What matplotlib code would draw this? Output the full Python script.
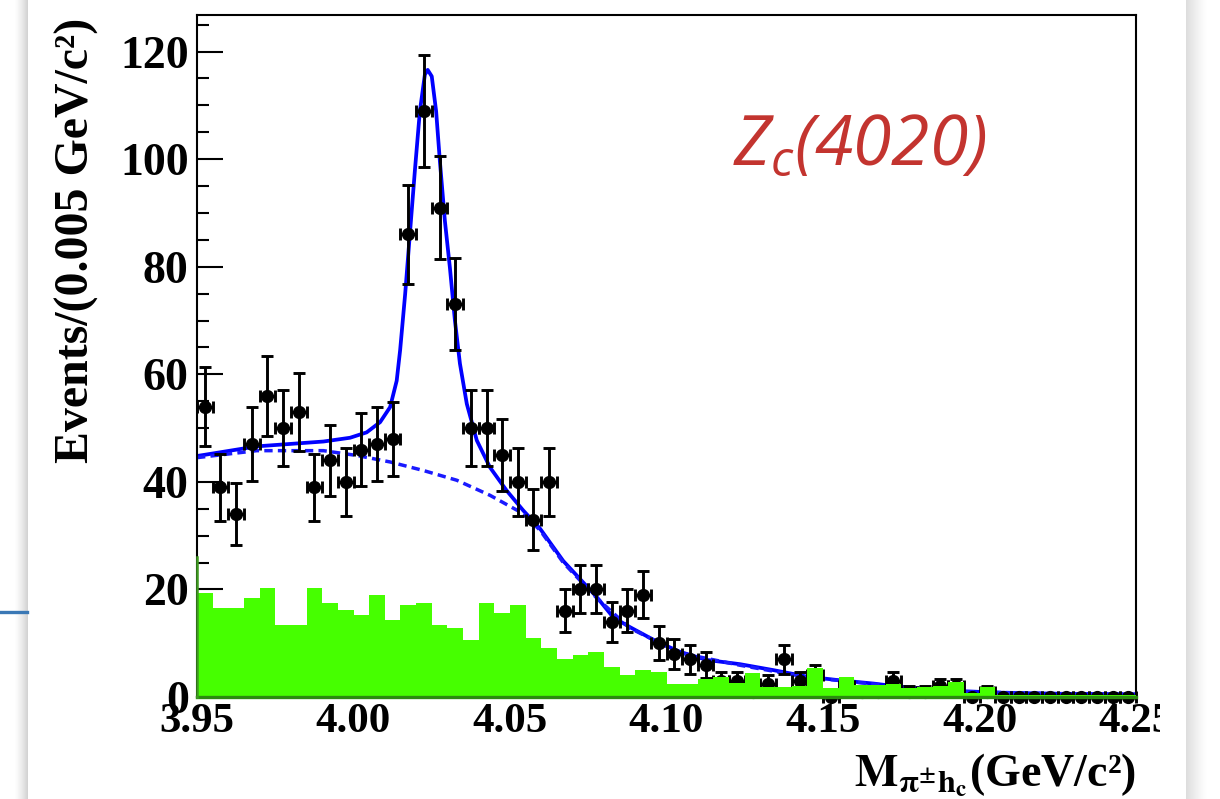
import numpy as np
import matplotlib
matplotlib.use("Agg")
import matplotlib.pyplot as plt
from matplotlib.ticker import MultipleLocator

# ---------------------------------------------------------------- data
bin_lo, bin_w, n_bins = 3.95, 0.005, 60

# observed events per 5 MeV bin
data_counts = [54, 39, 34, 47, 56, 50, 53, 39, 44, 40,
               46, 47, 48, 86, 109, 91, 73, 50, 50, 45,
               40, 33, 40, 16, 20, 20, 14, 16, 19, 10,
               8, 7, 6, 3, 3, 1, 2.5, 7, 3, 4,
               0, 2, 1, 1, 3, 1, 1, 2, 2, 0,
               1, 0, 0, 0, 0, 0, 0, 0, 0, 0]

# sideband / MC background (green histogram)
bkg_hist = [19.4, 16.6, 16.6, 18.4, 20.3, 13.4, 13.4, 20.3, 17.5, 16.1,
            15.2, 18.9, 14.3, 17.1, 17.5, 13.4, 12.9, 10.6, 17.5, 15.6,
            17.1, 11.0, 9.1, 7.0, 7.8, 8.4, 5.6, 4.1, 5.0, 4.7,
            2.5, 2.5, 3.3, 3.8, 2.6, 4.4, 1.9, 1.9, 2.0, 5.3,
            1.7, 3.8, 2.2, 2.2, 2.5, 1.7, 1.9, 2.0, 2.8, 0.8,
            1.9, 0.4, 0.4, 0.4, 0.4, 0.4, 0.4, 0.4, 0.4, 0.4]

# total fit curve
fit_x = [3.9500, 3.9691, 3.9904, 3.9989, 4.0042, 4.0085, 4.0117, 4.0138, 4.0149, 4.0165,
         4.0180, 4.0196, 4.0212, 4.0228, 4.0237, 4.0250, 4.0264, 4.0276, 4.0292, 4.0308,
         4.0324, 4.0340, 4.0362, 4.0394, 4.0436, 4.0489, 4.0542, 4.0596, 4.0670, 4.0777,
         4.0830, 4.0883, 4.0969, 4.1043, 4.1128, 4.1235, 4.1341, 4.1448, 4.1554, 4.1661,
         4.1789, 4.1938, 4.2065, 4.2257, 4.2500]
fit_total = [44.8, 46.6, 47.5, 48.2, 49.2, 51.1, 53.9, 58.8, 64.5, 74.9,
             86.0, 97.8, 108.9, 115.7, 116.6, 115.4, 108.9, 99.6, 88.5, 79.8,
             70.0, 62.0, 54.5, 47.7, 42.7, 38.4, 34.7, 31.3, 25.3, 18.6,
             14.8, 13.0, 10.3, 8.4, 6.9, 6.1, 5.0, 3.8, 3.1, 2.5,
             1.6, 1.1, 0.8, 0.6, 0.5]

# background component of the fit
bkg_x = [3.9500, 3.9691, 3.9904, 4.0011, 4.0117, 4.0224, 4.0330, 4.0436, 4.0542, 4.0596,
         4.0670, 4.0777, 4.0883, 4.1043, 4.1235, 4.1448, 4.1661, 4.1938, 4.2257, 4.2500]
bkg_fit = [44.5, 45.8, 45.8, 44.9, 43.7, 42.1, 40.3, 37.5, 34.1, 31.0,
           25.0, 18.4, 12.8, 8.2, 5.9, 3.7, 2.4, 1.0, 0.6, 0.5]

x_ticks = [3.95, 4.00, 4.05, 4.10, 4.15, 4.20, 4.25]
x_tick_labels = ["3.95", "4.00", "4.05", "4.10", "4.15", "4.20", "4.25"]
y_ticks = [0, 20, 40, 60, 80, 100, 120]
y_tick_labels = ["0", "20", "40", "60", "80", "100", "120"]

# ---------------------------------------------------------------- style
W, H, DPI = 1220, 799, 100
plt.rcParams["font.family"] = "Liberation Serif"
plt.rcParams["font.weight"] = "bold"
_it = "Open Sans:style=italic:weight=normal"
for key in ("mathtext.it", "mathtext.rm", "mathtext.cal", "mathtext.sf",
            "mathtext.tt", "mathtext.bf"):
    plt.rcParams[key] = _it

fig = plt.figure(figsize=(W / DPI, H / DPI), dpi=DPI)
fig.patch.set_facecolor("white")


def fx(px):
    return px / W


def fy(py):
    return 1 - py / H


ax = fig.add_axes([fx(197), fy(697), fx(1136) - fx(197), fy(15) - fy(697)])

edges = bin_lo + bin_w * np.arange(n_bins + 1)
centers = edges[:-1] + bin_w / 2
counts = np.array(data_counts, dtype=float)
errs = np.sqrt(counts)

# fit curves
ax.plot(fit_x, fit_total, color="#0000ff", lw=2.7, zorder=2, solid_capstyle="round")
ax.plot(bkg_x, bkg_fit, color="#1a1aff", lw=2.5, ls=(0, (2.4, 1.5)), zorder=2)

# background histogram
ax.stairs(bkg_hist, edges, fill=True, color="#46ff00", zorder=4, baseline=0)
ax.plot([edges[0], edges[-1]], [0, 0], color="#2c8a10", lw=2.4, zorder=5, clip_on=False)
ax.plot([edges[0], edges[0]], [0, 26], color="#3f9a20", lw=1.8, zorder=5, clip_on=False)

# data points
ax.errorbar(centers, counts, xerr=bin_w / 2, yerr=errs, fmt="o", color="black",
            ms=8.5, elinewidth=2.1, capsize=4.0, capthick=2.1, zorder=3, clip_on=False)

ax.set_xlim(3.95, 4.25)
ax.set_ylim(0, 126.8)

ax.set_xticks(x_ticks)
ax.set_xticklabels(x_tick_labels)
ax.set_yticks(y_ticks)
ax.set_yticklabels(y_tick_labels)
ax.yaxis.set_minor_locator(MultipleLocator(5))

ax.tick_params(axis="x", which="both", length=0, labelsize=31, pad=4)
ax.tick_params(axis="y", which="major", direction="in", length=18.7, width=1.5,
               labelsize=33, pad=6)
ax.tick_params(axis="y", which="minor", direction="in", length=8.6, width=1.5)
for lab in ax.get_xticklabels() + ax.get_yticklabels():
    lab.set_fontweight("bold")
    lab.set_fontfamily("Liberation Serif")

for sp in ax.spines.values():
    sp.set_linewidth(1.5)
    sp.set_color("black")

# axis titles
fig.text(fx(77), fy(18), "Events/(0.005 GeV/c²)", rotation=90, ha="center", va="top",
         fontsize=34.5, fontweight="bold", family="Liberation Serif")
fig.text(fx(1136), fy(786), r"$\mathbf{M}_{\mathbf{\pi^{\pm}h_{c}}}$(GeV/c²)",
         ha="right", va="baseline", fontsize=33, fontweight="bold",
         family="Liberation Serif", math_fontfamily="stix")

# resonance name
fig.text(fx(733), fy(165), r"$Z_{c}(4020)$", ha="left", va="baseline",
         fontsize=50, color="#c3342f", math_fontfamily="custom")

# page decorations
ov = fig.add_axes([0, 0, 1, 1], zorder=10)
ov.set_xlim(0, W)
ov.set_ylim(H, 0)
ov.axis("off")
ov.patch.set_visible(False)

grad_l = np.zeros((1, 64, 4))
grad_l[..., :3] = 0.35
grad_l[0, :, 3] = np.linspace(0, 0.4, 64) ** 1.4
ov.imshow(grad_l, extent=(14, 28, H, 0), aspect="auto", interpolation="bilinear")

grad_r = np.zeros((1, 64, 4))
grad_r[..., :3] = 0.35
grad_r[0, :, 3] = np.linspace(0.3, 0, 64) ** 1.3
ov.imshow(grad_r, extent=(1186, 1208, H, 0), aspect="auto", interpolation="bilinear")

ov.add_patch(plt.Rectangle((1160, 698), 26, 60, facecolor="white", edgecolor="none"))
ov.plot([0, 27], [612, 612], color="#3a78b5", lw=2.4)
ov.set_xlim(0, W)
ov.set_ylim(H, 0)

fig.savefig("out.png", dpi=DPI)
